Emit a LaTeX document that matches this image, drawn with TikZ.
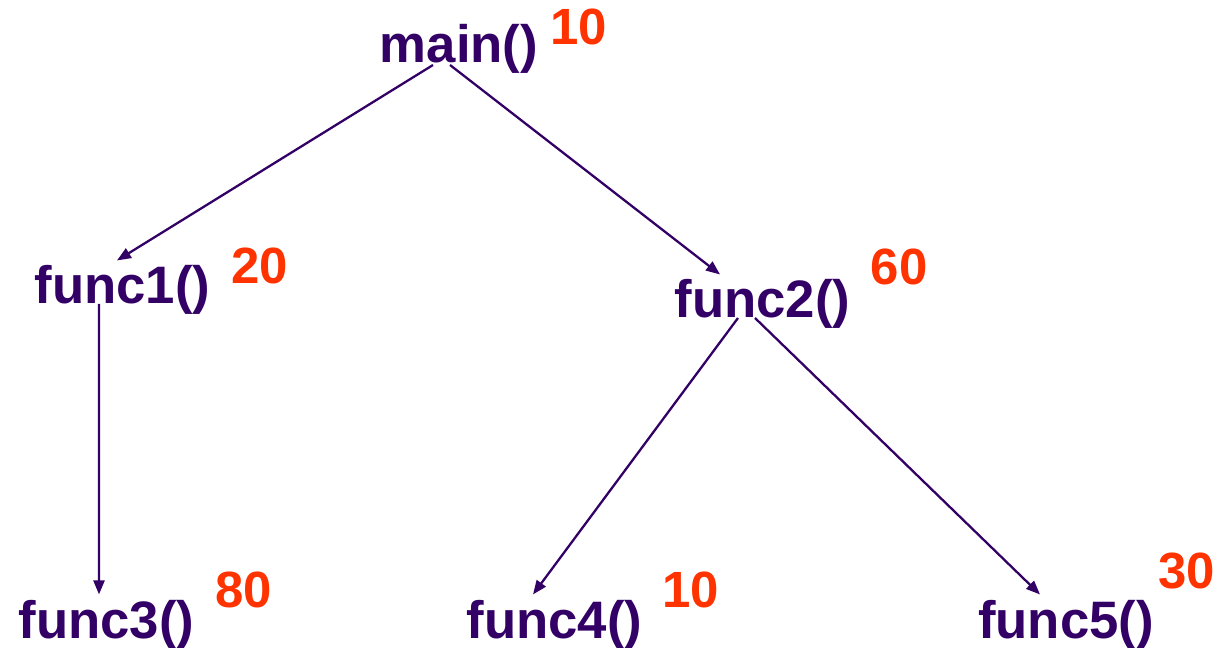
\documentclass[tikz,border=0pt]{standalone}
\usepackage{fontspec}
\setmainfont{Liberation Sans}
\usepackage{xcolor}
\usepackage{tikz}
\usetikzlibrary{
	arrows.meta,
	positioning
}
\definecolor{callpurple}{HTML}{330066}
\definecolor{costred}{HTML}{FF3300}

\tikzset{
	func/.style={inner sep=0.1cm, text=callpurple, font=\fontsize{30}{36}\selectfont\bfseries},
	cost/.style={inner sep=0pt, anchor=base, text=costred, font=\fontsize{29}{35}\selectfont\bfseries},
	call/.style={-{Triangle[length=0.28cm, width=0.22cm]}, draw=callpurple, line width=1.3pt}
}

\begin{document}
\begin{tikzpicture}[x=0.02cm, y=-0.02cm]
		\useasboundingbox (0,0) rectangle (1221,648);
		% functions
		\node[func, anchor=base] (main) at (459,63) {main()};
		\node[func, anchor=base] (func1) at (122.5,304) {func1()};
		\node[func, anchor=base] (func2) at (762.5,318) {func2()};
		\node[func, anchor=base] (func3) at (106.5,638) {func3()};
		\node[func, anchor=base] (func4) at (554.5,638) {func4()};
		\node[func, anchor=base] (func5) at (1066,638) {func5()};
		% costs
		\node[cost] (cmain) at (579,45) {10};
		\node[cost] (cfunc1) at (260,284) {20};
		\node[cost] (cfunc2) at (899,285) {60};
		\node[cost] (cfunc3) at (243.5,607) {80};
		\node[cost] (cfunc4) at (691,607) {10};
		\node[cost] (cfunc5) at (1186.5,588) {30};
		% calls
		\draw[call] ([xshift=-0.52cm,yshift=-0.04cm]main.base) -- ([xshift=-0.11cm]func1.north);
		\draw[call] ([xshift=-0.18cm,yshift=-0.04cm]main.base) -- ([xshift=-0.85cm]func2.north);
		\draw[call] ([xshift=-0.47cm]func1.base) -- ([xshift=-0.15cm]func3.north);
		\draw[call] ([xshift=-0.49cm]func2.base) -- ([xshift=-0.43cm]func4.north);
		\draw[call] ([xshift=-0.15cm]func2.base) -- ([xshift=-0.52cm]func5.north);
	\end{tikzpicture}
\end{document}
